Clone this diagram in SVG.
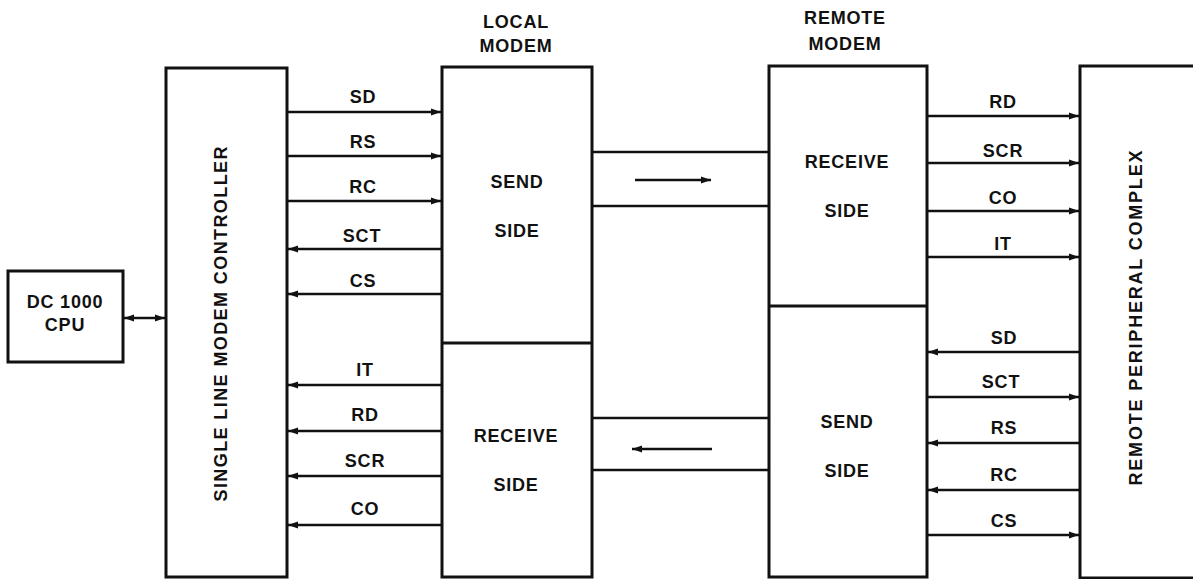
<svg xmlns="http://www.w3.org/2000/svg" width="1193" height="579" viewBox="0 0 1193 579">
<style>
.box{fill:none;stroke:#111;stroke-width:3;stroke-linejoin:miter}
.ln{fill:none;stroke:#111;stroke-width:2.5}
.t{font-family:"Liberation Sans",Arial,sans-serif;font-weight:bold;font-size:18px;fill:#111;text-anchor:middle;letter-spacing:0.8px}
.a{marker-end:url(#ah)}
</style>
<defs>
<marker id="ah" markerUnits="userSpaceOnUse" markerWidth="12" markerHeight="10" refX="10" refY="5" orient="auto">
<path d="M0,1.5 L10,5 L0,8.5 Z" fill="#111"/>
</marker>
<marker id="as" markerUnits="userSpaceOnUse" markerWidth="12" markerHeight="10" refX="10" refY="5" orient="auto-start-reverse">
<path d="M0,1.5 L10,5 L0,8.5 Z" fill="#111"/>
</marker>
</defs>
<rect width="1193" height="579" fill="#fff"/>

<g id="cpu">
<rect class="box" x="8" y="271" width="115" height="91"/>
<text class="t" x="65" y="308">DC 1000</text>
<text class="t" x="65" y="331">CPU</text>
</g>

<g id="controller">
<rect class="box" x="166" y="68" width="121" height="509"/>
<text class="t" transform="translate(227,324) rotate(-90)" textLength="355" lengthAdjust="spacing" style="letter-spacing:0">SINGLE LINE MODEM CONTROLLER</text>
</g>

<g id="local-modem">
<text class="t" x="516" y="28">LOCAL</text>
<text class="t" x="516" y="52">MODEM</text>
<rect class="box" x="442" y="67" width="150" height="510"/>
<line class="box" x1="442" y1="343" x2="592" y2="343"/>
<text class="t" x="517" y="188">SEND</text>
<text class="t" x="517" y="237">SIDE</text>
<text class="t" x="516" y="442">RECEIVE</text>
<text class="t" x="516" y="491">SIDE</text>
</g>

<g id="remote-modem">
<text class="t" x="845" y="24">REMOTE</text>
<text class="t" x="845" y="50">MODEM</text>
<rect class="box" x="769" y="66" width="158" height="511"/>
<line class="box" x1="769" y1="306" x2="927" y2="306"/>
<text class="t" x="847" y="168">RECEIVE</text>
<text class="t" x="847" y="217">SIDE</text>
<text class="t" x="847" y="428">SEND</text>
<text class="t" x="847" y="477">SIDE</text>
</g>

<g id="remote-peripheral">
<path class="box" d="M1193,66 L1080,66 L1080,578 L1193,578"/>
<text class="t" transform="translate(1142,318) rotate(-90)" textLength="335" lengthAdjust="spacing" style="letter-spacing:0">REMOTE PERIPHERAL COMPLEX</text>
</g>

<g id="connectors">
<line class="ln" x1="124" y1="318" x2="165" y2="318" marker-start="url(#as)" marker-end="url(#as)"/>

<line class="ln a" x1="288" y1="112" x2="441" y2="112"/>
<line class="ln a" x1="288" y1="156" x2="441" y2="156"/>
<line class="ln a" x1="288" y1="201" x2="441" y2="201"/>
<line class="ln a" x1="441" y1="249" x2="288" y2="249"/>
<line class="ln a" x1="441" y1="294" x2="288" y2="294"/>
<line class="ln a" x1="441" y1="385" x2="288" y2="385"/>
<line class="ln a" x1="441" y1="431" x2="288" y2="431"/>
<line class="ln a" x1="441" y1="476" x2="288" y2="476"/>
<line class="ln a" x1="441" y1="525" x2="288" y2="525"/>

<line class="ln" x1="592" y1="152" x2="769" y2="152"/>
<line class="ln" x1="592" y1="206" x2="769" y2="206"/>
<line class="ln a" x1="635" y1="180" x2="711" y2="180"/>
<line class="ln" x1="592" y1="418" x2="769" y2="418"/>
<line class="ln" x1="592" y1="470" x2="769" y2="470"/>
<line class="ln a" x1="712" y1="449" x2="632" y2="449"/>

<line class="ln a" x1="928" y1="116" x2="1079" y2="116"/>
<line class="ln a" x1="928" y1="163" x2="1079" y2="163"/>
<line class="ln a" x1="928" y1="211" x2="1079" y2="211"/>
<line class="ln a" x1="928" y1="257" x2="1079" y2="257"/>
<line class="ln a" x1="1079" y1="352" x2="928" y2="352"/>
<line class="ln a" x1="928" y1="397" x2="1079" y2="397"/>
<line class="ln a" x1="1079" y1="443" x2="928" y2="443"/>
<line class="ln a" x1="1079" y1="490" x2="928" y2="490"/>
<line class="ln a" x1="928" y1="535" x2="1079" y2="535"/>

<text class="t" x="363" y="103">SD</text>
<text class="t" x="363" y="148">RS</text>
<text class="t" x="363" y="193">RC</text>
<text class="t" x="362" y="242">SCT</text>
<text class="t" x="363" y="287">CS</text>
<text class="t" x="365" y="376">IT</text>
<text class="t" x="365" y="421">RD</text>
<text class="t" x="365" y="467">SCR</text>
<text class="t" x="365" y="515">CO</text>

<text class="t" x="1003" y="108">RD</text>
<text class="t" x="1003" y="157">SCR</text>
<text class="t" x="1003" y="204">CO</text>
<text class="t" x="1003" y="250">IT</text>
<text class="t" x="1004" y="344">SD</text>
<text class="t" x="1001" y="388">SCT</text>
<text class="t" x="1004" y="434">RS</text>
<text class="t" x="1004" y="481">RC</text>
<text class="t" x="1004" y="527">CS</text>
</g>
</svg>
